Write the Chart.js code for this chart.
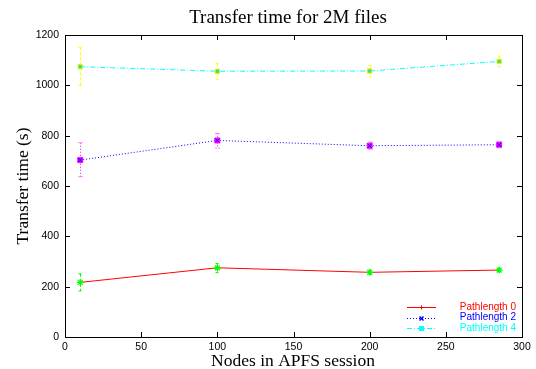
<!DOCTYPE html>
<html>
<head>
<meta charset="utf-8">
<script src="https://cdn.jsdelivr.net/npm/chart.js@4/dist/chart.umd.min.js"></script>
<style>
  html, body { margin: 0; padding: 0; background: #fff; }
  #wrap { width: 536px; height: 369px; position: relative; }
</style>
</head>
<body>
<div id="wrap"><canvas id="transferChart"></canvas></div>
<script>
// nodes in the APFS session (x values)
const nodes = [10, 100, 200, 285];

// transfer time (s) per pathlength, with low/high ends of the error bars
const path0 = [217, 275, 257, 266];
const path0Low = [183, 256, 249, 259];
const path0High = [251, 292, 265, 273];

const path2 = [703, 781, 760, 764];
const path2Low = [637, 750, 746, 752];
const path2High = [772, 809, 774, 776];

const path4 = [1074, 1056, 1057, 1095];
const path4Low = [1000, 1024, 1034, 1074];
const path4High = [1151, 1087, 1078, 1116];

const xTicks = [0, 50, 100, 150, 200, 250, 300];
const yTicks = [0, 200, 400, 600, 800, 1000, 1200];

const labels = ['Pathlength 0', 'Pathlength 2', 'Pathlength 4'];

const sans = '"Liberation Sans", Arial, sans-serif';
const serif = '"Liberation Serif", "Times New Roman", serif';

function pts(ys) {
  return nodes.map((x, i) => ({ x: x, y: ys[i] }));
}

// error bar settings per dataset (colour + dash)
const errBars = [
  { low: path0Low, high: path0High, color: '#00ff00', dash: [3, 2] },
  { low: path2Low, high: path2High, color: '#ff00ff', dash: [1, 2] },
  { low: path4Low, high: path4High, color: '#ffff00', dash: [3, 2] }
];

const errorBarPlugin = {
  id: 'errorBars',
  beforeDatasetsDraw(chart) {
    const ctx = chart.ctx;
    const xs = chart.scales.x, ys = chart.scales.y;
    ctx.save();
    errBars.forEach(eb => {
      ctx.strokeStyle = eb.color;
      ctx.lineWidth = 1;
      ctx.setLineDash(eb.dash);
      nodes.forEach((n, i) => {
        const px = Math.round(xs.getPixelForValue(n)) + 0.5;
        const top = ys.getPixelForValue(eb.high[i]);
        const bot = ys.getPixelForValue(eb.low[i]);
        ctx.beginPath();
        ctx.moveTo(px, top);
        ctx.lineTo(px, bot);
        ctx.moveTo(px - 2, top); ctx.lineTo(px + 2, top);
        ctx.moveTo(px - 2, bot); ctx.lineTo(px + 2, bot);
        ctx.stroke();
      });
    });
    ctx.restore();
  },
  afterDatasetsDraw(chart) {
    // little blue cross inside the magenta squares
    const ctx = chart.ctx;
    const meta = chart.getDatasetMeta(1);
    ctx.save();
    ctx.strokeStyle = '#0000ff';
    ctx.lineWidth = 1;
    meta.data.forEach(p => {
      ctx.beginPath();
      ctx.moveTo(p.x - 2, p.y - 2); ctx.lineTo(p.x + 2, p.y + 2);
      ctx.moveTo(p.x + 2, p.y - 2); ctx.lineTo(p.x - 2, p.y + 2);
      ctx.stroke();
    });
    ctx.restore();
  }
};

// gnuplot style frame: box with inward ticks on all four sides, titles, legend
const framePlugin = {
  id: 'frame',
  afterDraw(chart) {
    const ctx = chart.ctx;
    const a = chart.chartArea;
    const xs = chart.scales.x, ys = chart.scales.y;
    ctx.save();
    ctx.strokeStyle = '#000';
    ctx.lineWidth = 1;
    ctx.setLineDash([]);
    ctx.strokeRect(Math.round(a.left) + 0.5, Math.round(a.top) + 0.5,
      Math.round(a.right - a.left), Math.round(a.bottom - a.top));
    ctx.beginPath();
    xTicks.forEach(v => {
      const px = Math.round(xs.getPixelForValue(v)) + 0.5;
      ctx.moveTo(px, a.bottom); ctx.lineTo(px, a.bottom - 5);
      ctx.moveTo(px, a.top); ctx.lineTo(px, a.top + 5);
    });
    yTicks.forEach(v => {
      const py = Math.round(ys.getPixelForValue(v)) + 0.5;
      ctx.moveTo(a.left, py); ctx.lineTo(a.left + 5, py);
      ctx.moveTo(a.right, py); ctx.lineTo(a.right - 5, py);
    });
    ctx.stroke();

    // titles
    ctx.fillStyle = '#000';
    ctx.textAlign = 'center';
    ctx.textBaseline = 'alphabetic';
    ctx.font = '19px ' + serif;
    ctx.fillText('Transfer time for 2M files', 288, 23);
    ctx.font = '17.5px ' + serif;
    ctx.fillText('Nodes in APFS session', 293, 366);
    ctx.translate(28, 186);
    ctx.rotate(-Math.PI / 2);
    ctx.fillText('Transfer time (s)', 0, 0);
    ctx.restore();

    // legend, bottom right inside the frame
    const sets = chart.data.datasets;
    ctx.save();
    ctx.font = '10px ' + sans;
    ctx.textAlign = 'right';
    ctx.textBaseline = 'middle';
    sets.forEach((ds, i) => {
      const y = 307 + i * 10.7;
      ctx.strokeStyle = ds.borderColor;
      ctx.lineWidth = 1;
      ctx.setLineDash(ds.borderDash || []);
      ctx.beginPath();
      ctx.moveTo(407, Math.round(y) + 0.5);
      ctx.lineTo(436, Math.round(y) + 0.5);
      ctx.stroke();
      ctx.setLineDash([]);
      const cx = 421.5, cy = Math.round(y) + 0.5;
      ctx.beginPath();
      if (i === 0) {
        ctx.moveTo(cx - 2, cy); ctx.lineTo(cx + 2, cy);
        ctx.moveTo(cx, cy - 2); ctx.lineTo(cx, cy + 2);
        ctx.stroke();
      } else if (i === 1) {
        ctx.moveTo(cx - 2, cy - 2); ctx.lineTo(cx + 2, cy + 2);
        ctx.moveTo(cx + 2, cy - 2); ctx.lineTo(cx - 2, cy + 2);
        ctx.lineWidth = 1.5;
        ctx.stroke();
      } else {
        ctx.fillStyle = ds.borderColor;
        ctx.fillRect(cx - 2.5, cy - 2.5, 5, 5);
      }
      ctx.fillStyle = ds.borderColor;
      ctx.fillText(labels[i], 516, y);
    });
    ctx.restore();
  }
};

new Chart(document.getElementById('transferChart'), {
  type: 'scatter',
  data: {
    datasets: [
      {
        label: labels[0],
        data: pts(path0),
        showLine: true,
        borderColor: '#ff0000',
        borderWidth: 1,
        pointStyle: 'star',
        pointRadius: 3.5,
        pointBorderColor: '#00ff00',
        pointBackgroundColor: '#00ff00',
        pointBorderWidth: 1.2
      },
      {
        label: labels[1],
        data: pts(path2),
        showLine: true,
        borderColor: '#0000ff',
        borderWidth: 1,
        borderDash: [1, 2],
        pointStyle: 'rect',
        pointRadius: 3.5,
        pointBorderColor: '#ff00ff',
        pointBackgroundColor: '#ff00ff',
        pointBorderWidth: 1
      },
      {
        label: labels[2],
        data: pts(path4),
        showLine: true,
        borderColor: '#00ffff',
        borderWidth: 1,
        borderDash: [5, 2, 1, 2],
        pointStyle: 'rect',
        pointRadius: 3,
        pointBorderColor: '#e8f000',
        pointBackgroundColor: '#40d890',
        pointBorderWidth: 1
      }
    ]
  },
  options: {
    responsive: true,
    maintainAspectRatio: false,
    animation: false,
    layout: { padding: { top: 35, right: 14, left: 0, bottom: 0 } },
    plugins: {
      legend: { display: false },
      title: { display: false },
      tooltip: { enabled: false }
    },
    scales: {
      x: {
        type: 'linear',
        min: 0,
        max: 300,
        afterBuildTicks: s => { s.ticks = xTicks.map(v => ({ value: v })); },
        afterFit: s => { s.height = 32; },
        ticks: { color: '#000', padding: 4, maxRotation: 0, callback: v => String(v), font: { family: sans, size: 10.5 } },
        grid: { display: false, drawTicks: false },
        border: { display: false }
      },
      y: {
        min: 0,
        max: 1200,
        afterBuildTicks: s => { s.ticks = yTicks.map(v => ({ value: v })); },
        afterFit: s => { s.width = 65; },
        ticks: { color: '#000', padding: 6, callback: v => String(v), font: { family: sans, size: 10.5 } },
        grid: { display: false, drawTicks: false },
        border: { display: false }
      }
    }
  },
  plugins: [errorBarPlugin, framePlugin]
});
</script>
</body>
</html>
